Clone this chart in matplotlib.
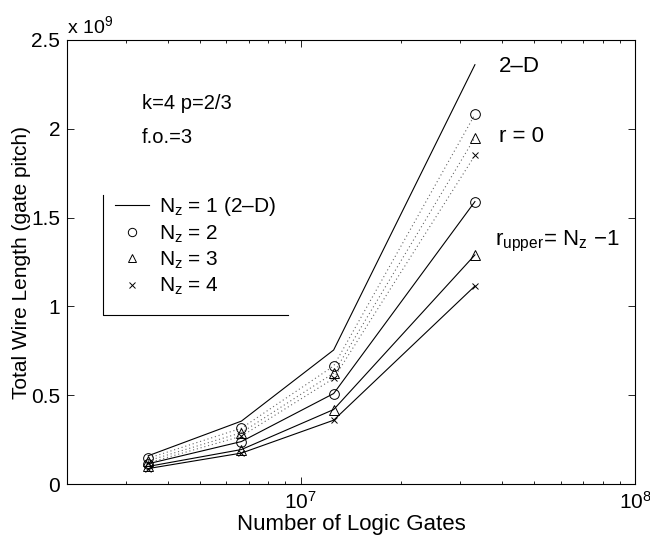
import matplotlib
matplotlib.use("Agg")
import matplotlib.pyplot as plt
from matplotlib.lines import Line2D
from matplotlib.ticker import FixedLocator, FixedFormatter, NullFormatter

plt.rcParams["font.family"] = ["Liberation Sans", "DejaVu Sans"]
plt.rcParams["mathtext.fontset"] = "custom"
plt.rcParams["mathtext.rm"] = "Liberation Sans"
plt.rcParams["mathtext.it"] = "Liberation Sans"

# number of logic gates
gates = [3.5e6, 6.65e6, 1.255e7, 3.32e7]

# total wire length, units of 1e9 gate pitch
wl_2d = [0.16, 0.355, 0.755, 2.36]
# r = 0 (dotted)
wl_r0_nz2 = [0.146, 0.315, 0.665, 2.08]
wl_r0_nz3 = [0.132, 0.29, 0.625, 1.95]
wl_r0_nz4 = [0.12, 0.27, 0.595, 1.85]
# r_upper = Nz - 1 (solid)
wl_ru_nz2 = [0.115, 0.24, 0.51, 1.59]
wl_ru_nz3 = [0.10, 0.195, 0.42, 1.29]
wl_ru_nz4 = [0.088, 0.175, 0.36, 1.115]

legend_labels = ["N$_z$ = 1 (2\u2013D)", "N$_z$ = 2", "N$_z$ = 3", "N$_z$ = 4"]
markers = ["o", "^", "x"]


def msize(m):
    return 5 if m == "x" else 7


fig = plt.figure(figsize=(6.5, 5.38), dpi=100)
ax = fig.add_axes([0.103, 0.100, 0.874, 0.826])

ax.plot(gates, wl_2d, color="black", lw=0.8)
for vals, m in zip([wl_r0_nz2, wl_r0_nz3, wl_r0_nz4], markers):
    ax.plot(gates, vals, color="black", lw=0.8, ls=(0, (1, 2.5)), alpha=0.6)
    ax.plot(gates, vals, ls="none", marker=m, mfc="none", mec="black", ms=msize(m), mew=0.7)
for vals, m in zip([wl_ru_nz2, wl_ru_nz3, wl_ru_nz4], markers):
    ax.plot(gates, vals, color="black", lw=0.8, marker=m, mfc="none", mec="black",
            ms=msize(m), mew=0.7)

ax.set_xscale("log")
ax.set_xlim(2e6, 1e8)
ax.set_ylim(0, 2.5)
ax.set_yticks([0, 0.5, 1, 1.5, 2, 2.5])
ax.set_yticklabels(["0", "0.5", "1", "1.5", "2", "2.5"])
ax.xaxis.set_major_locator(FixedLocator([1e7, 1e8]))
ax.xaxis.set_major_formatter(FixedFormatter(["10$^{7}$", "10$^{8}$"]))
ax.xaxis.set_minor_formatter(NullFormatter())
ax.tick_params(which="both", direction="in", top=True, right=True, labelsize=15, width=0.6)
ax.tick_params(which="major", length=5, pad=5)
ax.tick_params(which="minor", length=2.5)
for s in ax.spines.values():
    s.set_linewidth(0.8)

ax.set_xlabel("Number of Logic Gates", fontsize=16, labelpad=1)
ax.set_ylabel("Total Wire Length (gate pitch)", fontsize=15, labelpad=0)
ax.text(0.0, 1.005, "x 10$^{9}$", transform=ax.transAxes, fontsize=14, ha="left", va="bottom")

ax.text(0.132, 0.845, "k=4 p=2/3", transform=ax.transAxes, fontsize=14.5, va="baseline")
ax.text(0.132, 0.768, "f.o.=3", transform=ax.transAxes, fontsize=14.5, va="baseline")
ax.text(3.92e7, 2.32, "2\u2013D", fontsize=16, va="baseline")
ax.text(3.92e7, 1.925, "r = 0", fontsize=16, va="baseline")
ax.text(3.82e7, 1.345, "r$_{upper}$= N$_z$ \u22121", fontsize=16, va="baseline")

handles = [Line2D([], [], color="black", lw=0.8)]
for m in markers:
    handles.append(Line2D([], [], ls="none", marker=m, mfc="none", mec="black",
                          ms=msize(m) - 1, mew=0.7))
leg = ax.legend(handles, legend_labels, loc="upper left", bbox_to_anchor=(0.0845, 0.650),
                frameon=False, fontsize=15, handlelength=1.63, labelspacing=0.24,
                handletextpad=0.48, borderaxespad=0, borderpad=0)

# partial legend frame (left and bottom edges)
ax.plot([0.063, 0.063, 0.389], [0.651, 0.381, 0.381], color="black", lw=0.8,
        transform=ax.transAxes, clip_on=False)

fig.savefig("out.png", dpi=100)
